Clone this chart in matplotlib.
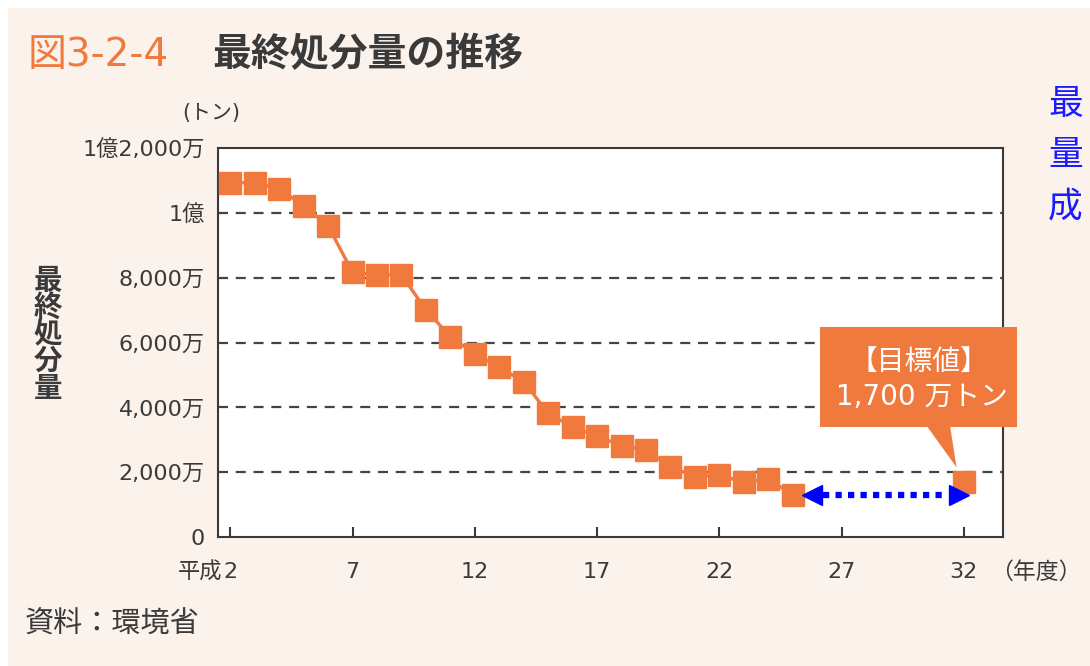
import matplotlib.pyplot as plt
from matplotlib.patches import Rectangle, Polygon

# 数字は幅の広い DejaVu、漢字・かなは Noto Sans CJK JP で描く
plt.rcParams['font.family'] = ['DejaVu Sans', 'Noto Sans CJK JP']

# 最終処分量（万トン）、平成2〜25年度
years = list(range(2, 26))
disposal = [10930, 10930, 10740, 10220, 9600, 8170, 8090, 8090, 7010, 6180,
            5650, 5240, 4790, 3820, 3390, 3120, 2810, 2690, 2170, 1860,
            1910, 1690, 1790, 1300]
target_year = 32
target_value = 1700

xticks = [2, 7, 12, 17, 22, 27, 32]
xtick_labels = ['2', '7', '12', '17', '22', '27', '32']
yticks = [0, 2000, 4000, 6000, 8000, 10000, 12000]
ytick_labels = ['0', '2,000万', '4,000万', '6,000万', '8,000万', '1億', '1億2,000万']

ORANGE = '#F07A3E'
DARK = '#3a3a3a'
BG = '#FBF2EC'
W, H = 1090, 666

fig = plt.figure(figsize=(W / 100, H / 100), dpi=100)
fig.patch.set_facecolor('white')
fig.add_artist(Rectangle((8 / W, 0), 1, 1 - 8 / H, transform=fig.transFigure,
                         facecolor=BG, edgecolor='none', zorder=-10))

ax = fig.add_axes([218 / W, 1 - 537 / H, (1003 - 218) / W, (537 - 148) / H])
ax.set_facecolor('white')
ax.set_xlim(1.5, 33.6)
ax.set_ylim(0, 12000)

for s in ax.spines.values():
    s.set_color(DARK)
    s.set_linewidth(1.5)

for v in yticks[1:-1]:
    ax.axhline(v, color='#444444', lw=1.6, ls=(0, (4.5, 3.5)), zorder=1)

ax.set_xticks(xticks)
ax.set_xticklabels(xtick_labels)
ax.set_yticks(yticks)
ax.set_yticklabels(ytick_labels)
ax.tick_params(axis='x', direction='in', length=7, width=1.5, color=DARK,
               pad=18, labelsize=16, labelcolor=DARK)
ax.tick_params(axis='y', length=0, pad=9.5, labelsize=16, labelcolor=DARK)

# 実績
ax.plot(years, disposal, color=ORANGE, lw=2.4, marker='s', ms=15.5,
        zorder=3, solid_joinstyle='miter')
# 目標値
ax.plot([target_year], [target_value], color=ORANGE, marker='s', ms=15.5,
        ls='none', zorder=3)

# 現状から目標年度までの矢印
y_arrow = disposal[-1]
x0 = years[-1] + 0.78
x1 = target_year - 0.2
ax.plot([x0 + 0.45, x1 - 0.45], [y_arrow, y_arrow], color='blue', lw=4.5,
        ls=(0, (1, 1)), dash_capstyle='butt', zorder=5)
ax.plot([x0], [y_arrow], color='blue', marker='<', ms=14.5, ls='none', zorder=5)
ax.plot([x1], [y_arrow], color='blue', marker='>', ms=14.5, ls='none', zorder=5)

# 目標値の吹き出し
bx0, bx1 = 26.12, 34.18
by0, by1 = 3395, 6481
ax.add_patch(Rectangle((bx0, by0), bx1 - bx0, by1 - by0, facecolor=ORANGE,
                       edgecolor='none', clip_on=False, zorder=6))
ax.add_patch(Polygon([(30.5, by0 + 10), (31.44, by0 + 10),
                      (target_year - 0.3, target_value + 450)],
                     closed=True, facecolor=ORANGE, edgecolor='none',
                     clip_on=False, zorder=6))
bxc = (bx0 + bx1) / 2
ax.text(bxc, 5400, '【目標値】', color='white', fontsize=20, ha='center',
        va='center', zorder=7)
ax.text(bxc + 0.15, 4330, f'{target_value:,} 万トン', color='white',
        fontsize=20, ha='center', va='center', zorder=7)

# 図タイトルと注記
fig.text(28 / W, 1 - 55 / H, '図3-2-4', color=ORANGE, fontsize=28,
         ha='left', va='center')
fig.text(212 / W, 1 - 55 / H, '最終処分量の推移', color=DARK, fontsize=28,
         fontweight='bold', ha='left', va='center')
fig.text(211 / W, 1 - 113 / H, '(トン)', color=DARK, fontsize=15,
         ha='center', va='center')
fig.text(222 / W, 1 - 572 / H, '平成', color=DARK, fontsize=16,
         ha='right', va='center')
fig.text(990 / W, 1 - 572 / H, '（年度）', color=DARK, fontsize=16.5,
         ha='left', va='center')
fig.text(48 / W, 1 - 335 / H, '\n'.join('最終処分量'), color=DARK,
         fontsize=20.5, fontweight='bold', ha='center', va='center',
         linespacing=0.95)
fig.text(25 / W, 1 - 625 / H, '資料：環境省', color=DARK, fontsize=21,
         ha='left', va='center')
fig.text(1048 / W, 1 - 87 / H, '\n'.join('最量成'), color='#1a1aff',
         fontsize=25, ha='left', va='top', linespacing=1.63)

fig.savefig('out.png', dpi=100, facecolor=fig.get_facecolor())
